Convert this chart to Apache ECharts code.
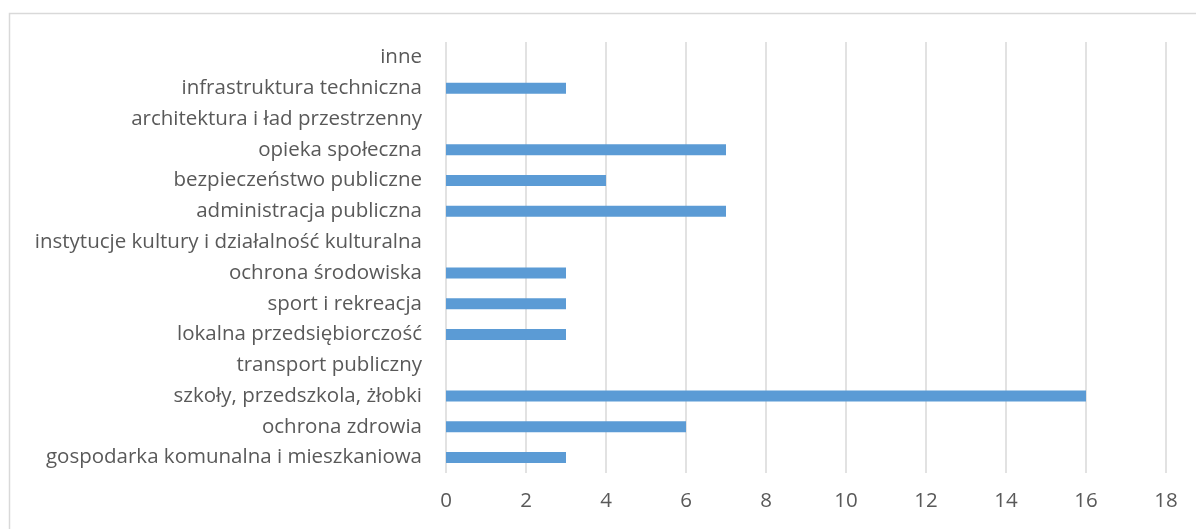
<!DOCTYPE html>
<html>
<head>
<meta charset="utf-8">
<script src="https://cdn.jsdelivr.net/npm/echarts@6/dist/echarts.min.js"></script>
<style>
html,body{margin:0;padding:0;background:#fff;}
#c{width:1196px;height:529px;}
</style>
</head>
<body>
<div id="c"></div>
<script>
const categories = [
  'gospodarka komunalna i mieszkaniowa',
  'ochrona zdrowia',
  'szkoły, przedszkola, żłobki',
  'transport publiczny',
  'lokalna przedsiębiorczość',
  'sport i rekreacja',
  'ochrona środowiska',
  'instytucje kultury i działalność kulturalna',
  'administracja publiczna',
  'bezpieczeństwo publiczne',
  'opieka społeczna',
  'architektura i ład przestrzenny',
  'infrastruktura techniczna',
  'inne'
];
const values = [3, 6, 16, 0, 3, 3, 3, 0, 7, 4, 7, 0, 3, 0];
const xMin = 0, xMax = 18, xStep = 2;

const chart = echarts.init(document.getElementById('c'));
chart.setOption({
  animation: false,
  backgroundColor: '#ffffff',
  textStyle: { fontFamily: 'Open Sans' },
  graphic: [{
    type: 'rect',
    shape: { x: 9.5, y: 13.5, width: 1300, height: 700 },
    style: { fill: 'none', stroke: '#d9d9d9', lineWidth: 1.5 },
    silent: true, z: -1
  }],
  grid: { left: 446, right: 30, top: 42, bottom: 56, containLabel: false },
  xAxis: {
    type: 'value', min: xMin, max: xMax, interval: xStep,
    axisLine: { show: false }, axisTick: { show: false },
    splitLine: { show: true, lineStyle: { color: '#d9d9d9', width: 1.5 } },
    axisLabel: { color: '#595959', fontSize: 20.5, margin: 18, fontFamily: 'Open Sans' }
  },
  yAxis: {
    type: 'category', data: categories,
    axisLine: { show: false }, axisTick: { show: false },
    axisLabel: { color: '#595959', fontSize: 20.5, margin: 24, fontFamily: 'Open Sans' }
  },
  series: [{
    type: 'bar', data: values, barWidth: 11,
    itemStyle: { color: '#5b9bd5' }
  }]
});
</script>
</body>
</html>
